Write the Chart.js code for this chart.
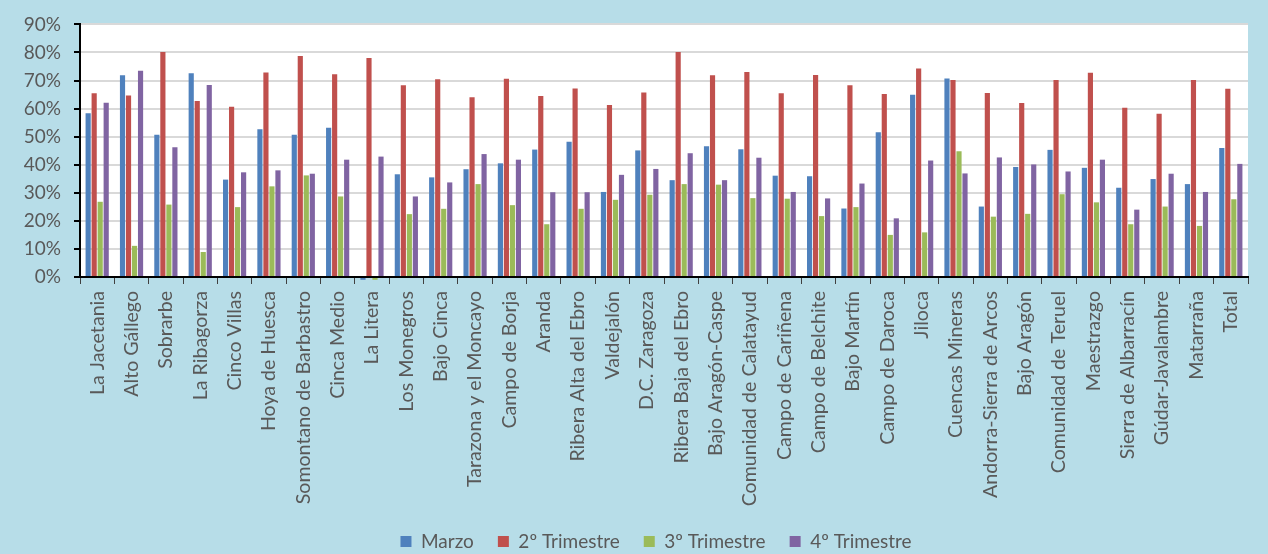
<!DOCTYPE html>
<html><head><meta charset="utf-8">
<script src="https://cdn.jsdelivr.net/npm/chart.js@4.4.1/dist/chart.umd.min.js"></script>
<style>
html,body{margin:0;padding:0;background:#b7dde8;}
#wrap{width:1268px;height:554px;position:relative;}
</style></head>
<body><div id="wrap"><canvas id="c" width="1268" height="554"></canvas></div>
<script>
const categories = ["La Jacetania","Alto Gállego","Sobrarbe","La Ribagorza","Cinco Villas","Hoya de Huesca","Somontano de Barbastro","Cinca Medio","La Litera","Los Monegros","Bajo Cinca","Tarazona y el Moncayo","Campo de Borja","Aranda","Ribera Alta del Ebro","Valdejalón","D.C. Zaragoza","Ribera Baja del Ebro","Bajo Aragón-Caspe","Comunidad de Calatayud","Campo de Cariñena","Campo de Belchite","Bajo Martín","Campo de Daroca","Jiloca","Cuencas Mineras","Andorra-Sierra de Arcos","Bajo Aragón","Comunidad de Teruel","Maestrazgo","Sierra de Albarracín","Gúdar-Javalambre","Matarraña","Total"];
const seriesNames = ["Marzo","2º Trimestre","3º Trimestre","4º Trimestre"];
const marzo = [58.3,71.9,50.7,72.6,34.7,52.6,50.7,53.2,-1.0,36.6,35.5,38.4,40.5,45.4,48.2,30.3,45.1,34.5,46.6,45.5,36.1,35.9,24.4,51.6,64.9,70.7,25.1,39.2,45.3,38.9,31.8,34.9,33.1,46.0];
const trim2 = [65.5,64.7,80.2,62.7,60.7,72.9,78.7,72.2,78.0,68.3,70.5,64.0,70.6,64.5,67.2,61.3,65.7,80.2,71.9,73.0,65.5,72.0,68.3,65.2,74.3,70.2,65.6,62.0,70.2,72.8,60.3,58.2,70.2,67.1];
const trim3 = [26.8,11.1,25.8,8.9,24.9,32.3,36.2,28.7,-1.0,22.4,24.3,33.1,25.6,18.8,24.3,27.5,29.3,33.1,32.9,28.1,27.9,21.7,24.9,15.0,15.9,44.8,21.5,22.5,29.5,26.6,18.8,25.1,18.2,27.7];
const trim4 = [62.1,73.5,46.2,68.4,37.3,38.0,36.8,41.8,42.9,28.7,33.7,43.8,41.8,30.2,30.2,36.4,38.5,44.1,34.5,42.5,30.3,28.0,33.3,20.9,41.5,36.9,42.6,40.1,37.6,41.8,24.0,36.8,30.3,40.3];
const yTicks = [0,10,20,30,40,50,60,70,80,90];
const colors = ["#4f81bd","#c0504d","#9bbb59","#8064a2"];
const values = [marzo, trim2, trim3, trim4];

const FONT = "Lato, 'Open Sans', sans-serif";
const TXT = "#595959";

const plotBg = {
  id:'plotBg',
  beforeDraw(chart){
    const {ctx, chartArea:a} = chart;
    ctx.save(); ctx.fillStyle='#ffffff';
    ctx.fillRect(a.left, a.top, a.right-a.left, a.bottom-a.top);
    ctx.restore();
  },
  afterLayout(chart){
    if (chart.legend){ chart.legend.left += 32; chart.legend.right += 32; }
  }
};

new Chart(document.getElementById('c'), {
  type:'bar',
  data:{
    labels: categories,
    datasets: seriesNames.map((n,i)=>({
      label:n, data:values[i], backgroundColor:colors[i],
      borderWidth:0,
      categoryPercentage:0.70, barPercentage:0.86, clip:false
    }))
  },
  options:{
    responsive:false, animation:false,
    layout:{padding:{left:0,right:20,top:20,bottom:-7}},
    plugins:{
      legend:{position:'bottom',
        labels:{font:{family:FONT,size:19},color:TXT,boxWidth:11,boxHeight:11,padding:24}},
      tooltip:{enabled:false}
    },
    scales:{
      x:{
        offset:true,
        grid:{display:true, offset:true, drawOnChartArea:false, drawTicks:true, tickLength:7, color:'#404040', lineWidth:1},
        border:{display:true,color:'#000',width:2},
        ticks:{font:{family:FONT,size:19.6},color:TXT,minRotation:90,maxRotation:90,autoSkip:false,padding:7},
        afterFit(s){ s.height = 231; }
      },
      y:{
        min:0,max:90,
        afterBuildTicks(s){ s.ticks = yTicks.map(v=>({value:v})); },
        grid:{color:'#d9d9d9',lineWidth:2,tickColor:'#000',tickLength:6,drawTicks:true},
        border:{display:true,color:'#000',width:2},
        ticks:{font:{family:FONT,size:19},color:TXT,padding:13,callback:v=>v+'%'},
        afterFit(s){ s.width = 80; }
      }
    }
  },
  plugins:[plotBg]
});
</script></body></html>
